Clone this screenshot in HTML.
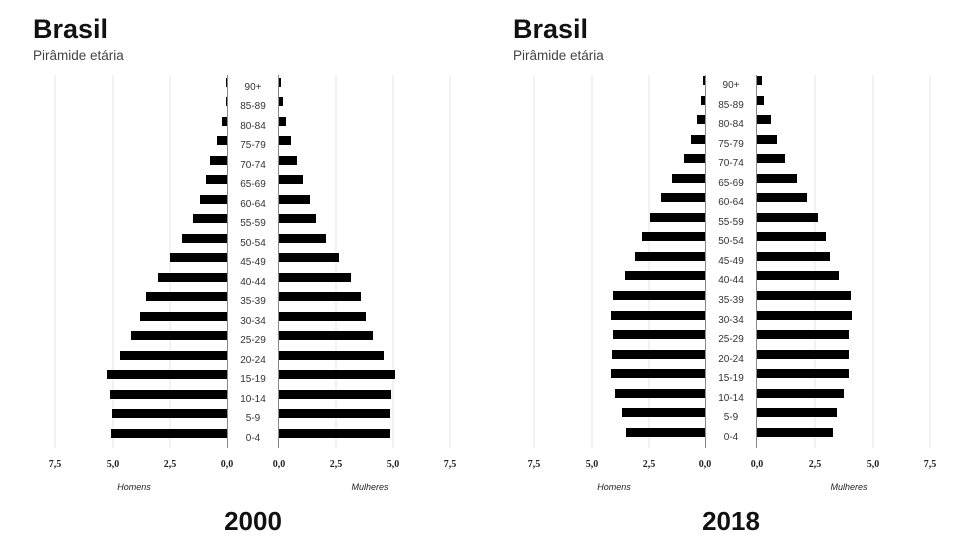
<!DOCTYPE html>
<html><head><meta charset="utf-8"><style>
body{margin:0;background:#fff;}
svg{display:block;font-family:"Liberation Sans",sans-serif;}
.t{font-size:10px;fill:#333;text-anchor:middle;}
.k{font-size:10px;fill:#222;text-anchor:middle;font-family:"Liberation Serif",serif;}
</style></head><body>
<svg width="979" height="544" viewBox="0 0 979 544">
<text x="33" y="38" font-size="27" font-weight="bold" fill="#111">Brasil</text>
<text x="33" y="60" font-size="13.5" fill="#444">Pirâmide etária</text>
<text x="513" y="38" font-size="27" font-weight="bold" fill="#111">Brasil</text>
<text x="513" y="60" font-size="13.5" fill="#444">Pirâmide etária</text>
<g stroke="#e4e4e4" stroke-width="1">
<line x1="55" y1="75" x2="55" y2="448"/><line x1="113" y1="75" x2="113" y2="448"/><line x1="170" y1="75" x2="170" y2="448"/>
<line x1="336" y1="75" x2="336" y2="448"/><line x1="393" y1="75" x2="393" y2="448"/><line x1="450" y1="75" x2="450" y2="448"/>
<line x1="534" y1="75" x2="534" y2="448"/><line x1="592" y1="75" x2="592" y2="448"/><line x1="649" y1="75" x2="649" y2="448"/>
<line x1="815" y1="75" x2="815" y2="448"/><line x1="873" y1="75" x2="873" y2="448"/><line x1="930" y1="75" x2="930" y2="448"/>
</g>
<g stroke="#888" stroke-width="1">
<line x1="227.5" y1="75" x2="227.5" y2="448"/><line x1="278.5" y1="75" x2="278.5" y2="448"/>
<line x1="705.5" y1="75" x2="705.5" y2="448"/><line x1="756.5" y1="75" x2="756.5" y2="448"/>
</g>
<g fill="#000">
<rect x="226" y="78" width="1" height="9"/><rect x="226" y="97" width="1" height="9"/><rect x="222" y="117" width="5" height="9"/><rect x="217" y="136" width="10" height="9"/><rect x="210" y="156" width="17" height="9"/><rect x="206" y="175" width="21" height="9"/><rect x="200" y="195" width="27" height="9"/><rect x="193" y="214" width="34" height="9"/><rect x="182" y="234" width="45" height="9"/><rect x="170" y="253" width="57" height="9"/><rect x="158" y="273" width="69" height="9"/><rect x="146" y="292" width="81" height="9"/><rect x="140" y="312" width="87" height="9"/><rect x="131" y="331" width="96" height="9"/><rect x="120" y="351" width="107" height="9"/><rect x="107" y="370" width="120" height="9"/><rect x="110" y="390" width="117" height="9"/><rect x="112" y="409" width="115" height="9"/><rect x="111" y="429" width="116" height="9"/>
<rect x="279" y="78" width="2" height="9"/><rect x="279" y="97" width="4" height="9"/><rect x="279" y="117" width="7" height="9"/><rect x="279" y="136" width="12" height="9"/><rect x="279" y="156" width="18" height="9"/><rect x="279" y="175" width="24" height="9"/><rect x="279" y="195" width="31" height="9"/><rect x="279" y="214" width="37" height="9"/><rect x="279" y="234" width="47" height="9"/><rect x="279" y="253" width="60" height="9"/><rect x="279" y="273" width="72" height="9"/><rect x="279" y="292" width="82" height="9"/><rect x="279" y="312" width="87" height="9"/><rect x="279" y="331" width="94" height="9"/><rect x="279" y="351" width="105" height="9"/><rect x="279" y="370" width="116" height="9"/><rect x="279" y="390" width="112" height="9"/><rect x="279" y="409" width="111" height="9"/><rect x="279" y="429" width="111" height="9"/>
<rect x="703" y="76" width="2" height="9"/><rect x="701" y="96" width="4" height="9"/><rect x="697" y="115" width="8" height="9"/><rect x="691" y="135" width="14" height="9"/><rect x="684" y="154" width="21" height="9"/><rect x="672" y="174" width="33" height="9"/><rect x="661" y="193" width="44" height="9"/><rect x="650" y="213" width="55" height="9"/><rect x="642" y="232" width="63" height="9"/><rect x="635" y="252" width="70" height="9"/><rect x="625" y="271" width="80" height="9"/><rect x="613" y="291" width="92" height="9"/><rect x="611" y="311" width="94" height="9"/><rect x="613" y="330" width="92" height="9"/><rect x="612" y="350" width="93" height="9"/><rect x="611" y="369" width="94" height="9"/><rect x="615" y="389" width="90" height="9"/><rect x="622" y="408" width="83" height="9"/><rect x="626" y="428" width="79" height="9"/>
<rect x="757" y="76" width="5" height="9"/><rect x="757" y="96" width="7" height="9"/><rect x="757" y="115" width="14" height="9"/><rect x="757" y="135" width="20" height="9"/><rect x="757" y="154" width="28" height="9"/><rect x="757" y="174" width="40" height="9"/><rect x="757" y="193" width="50" height="9"/><rect x="757" y="213" width="61" height="9"/><rect x="757" y="232" width="69" height="9"/><rect x="757" y="252" width="73" height="9"/><rect x="757" y="271" width="82" height="9"/><rect x="757" y="291" width="94" height="9"/><rect x="757" y="311" width="95" height="9"/><rect x="757" y="330" width="92" height="9"/><rect x="757" y="350" width="92" height="9"/><rect x="757" y="369" width="92" height="9"/><rect x="757" y="389" width="87" height="9"/><rect x="757" y="408" width="80" height="9"/><rect x="757" y="428" width="76" height="9"/>
</g>
<g class="t">
<text x="253" y="90">90+</text><text x="253" y="109">85-89</text><text x="253" y="129">80-84</text><text x="253" y="148">75-79</text><text x="253" y="168">70-74</text><text x="253" y="187">65-69</text><text x="253" y="207">60-64</text><text x="253" y="226">55-59</text><text x="253" y="246">50-54</text><text x="253" y="265">45-49</text><text x="253" y="285">40-44</text><text x="253" y="304">35-39</text><text x="253" y="324">30-34</text><text x="253" y="343">25-29</text><text x="253" y="363">20-24</text><text x="253" y="382">15-19</text><text x="253" y="402">10-14</text><text x="253" y="421">5-9</text><text x="253" y="441">0-4</text>
<text x="731" y="88">90+</text><text x="731" y="108">85-89</text><text x="731" y="127">80-84</text><text x="731" y="147">75-79</text><text x="731" y="166">70-74</text><text x="731" y="186">65-69</text><text x="731" y="205">60-64</text><text x="731" y="225">55-59</text><text x="731" y="244">50-54</text><text x="731" y="264">45-49</text><text x="731" y="283">40-44</text><text x="731" y="303">35-39</text><text x="731" y="323">30-34</text><text x="731" y="342">25-29</text><text x="731" y="362">20-24</text><text x="731" y="381">15-19</text><text x="731" y="401">10-14</text><text x="731" y="420">5-9</text><text x="731" y="440">0-4</text>
</g>
<g class="k" font-weight="bold">
<text x="55" y="467">7,5</text><text x="113" y="467">5,0</text><text x="170" y="467">2,5</text><text x="227" y="467">0,0</text><text x="279" y="467">0,0</text><text x="336" y="467">2,5</text><text x="393" y="467">5,0</text><text x="450" y="467">7,5</text>
<text x="534" y="467">7,5</text><text x="592" y="467">5,0</text><text x="649" y="467">2,5</text><text x="705" y="467">0,0</text><text x="757" y="467">0,0</text><text x="815" y="467">2,5</text><text x="873" y="467">5,0</text><text x="930" y="467">7,5</text>
</g>
<g font-size="9" font-style="italic" fill="#222" text-anchor="middle">
<text x="134" y="490">Homens</text><text x="370" y="490">Mulheres</text>
<text x="614" y="490">Homens</text><text x="849" y="490">Mulheres</text>
</g>
<text x="253" y="530" font-size="26" font-weight="bold" fill="#111" text-anchor="middle">2000</text>
<text x="731" y="530" font-size="26" font-weight="bold" fill="#111" text-anchor="middle">2018</text>
</svg>
</body></html>
